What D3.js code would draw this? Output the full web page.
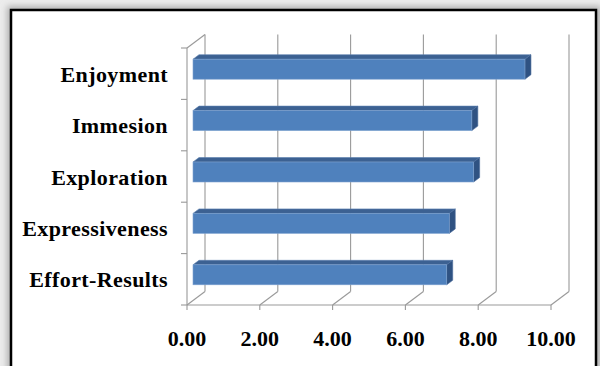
<!DOCTYPE html>
<html>
<head>
<meta charset="utf-8">
<script src="https://cdn.jsdelivr.net/npm/d3@7"></script>
<style>
  html, body { margin: 0; padding: 0; background: #ebebeb; }
  svg { display: block; }
</style>
</head>
<body>
<svg id="chart" width="600" height="366"></svg>
<script>
const categories = ["Enjoyment", "Immesion", "Exploration", "Expressiveness", "Effort-Results"];
const values = [9.12, 7.66, 7.71, 7.04, 6.97];
const tickValues = [0, 2, 4, 6, 8, 10];
const tickLabels = ["0.00", "2.00", "4.00", "6.00", "8.00", "10.00"];

const svg = d3.select("#chart");
const W = 600, H = 366;

// frame & shadow
const defs = svg.append("defs");
const f = defs.append("filter").attr("id", "shadow").attr("x", "-10%").attr("y", "-10%").attr("width", "120%").attr("height", "120%");
f.append("feGaussianBlur").attr("stdDeviation", 3);
svg.append("rect").attr("width", W).attr("height", H).attr("fill", "#ececec");
svg.append("rect").attr("x", 7).attr("y", 6).attr("width", 594).attr("height", 380)
  .attr("fill", "#b0b0b0").attr("filter", "url(#shadow)");
svg.append("rect").attr("x", 11).attr("y", 10).attr("width", 585).attr("height", 380)
  .attr("fill", "#ffffff").attr("stroke", "#000").attr("stroke-width", 2.5);

// scales (front plane)
const x = d3.scaleLinear().domain([0, 10]).range([187, 551]);
const y = d3.scaleBand().domain(categories).range([48, 305]);
const DX = 18, DY = -13.5; // full depth offset
const y0 = y.range()[0], y1 = y.range()[1];

const grid = svg.append("g").attr("stroke", "#999999").attr("stroke-width", 1.1).attr("fill", "none");

tickValues.forEach(t => {
  // back wall vertical gridlines
  grid.append("line")
    .attr("x1", x(t) + DX).attr("x2", x(t) + DX)
    .attr("y1", y0 + DY).attr("y2", y1 + DY);
  // floor diagonals
  grid.append("line")
    .attr("x1", x(t)).attr("y1", y1)
    .attr("x2", x(t) + DX).attr("y2", y1 + DY);
  // tick marks below the floor
  grid.append("line")
    .attr("x1", x(t)).attr("x2", x(t))
    .attr("y1", y1).attr("y2", y1 + 5);
});
// front floor edge
grid.append("line").attr("x1", x(0)).attr("x2", x(10)).attr("y1", y1).attr("y2", y1);
// left front axis
grid.append("line").attr("x1", x(0)).attr("x2", x(0)).attr("y1", y0).attr("y2", y1);
// top-left diagonal
grid.append("line").attr("x1", x(0)).attr("y1", y0).attr("x2", x(0) + DX).attr("y2", y0 + DY);
// category ticks on left axis
const boundaries = categories.map(c => y(c)).concat([y1]);
boundaries.forEach(b => {
  grid.append("line").attr("x1", x(0) - 6).attr("x2", x(0)).attr("y1", b).attr("y2", b);
});

// bars (occupy middle third of depth)
const bd = 1 / 3;
const bx = DX * bd, by = DY * bd;
const barH = 20;
const bars = svg.append("g");
categories.forEach((c, i) => {
  const v = values[i];
  const cy = y(c) + y.bandwidth() / 2 + by;
  const xl = x(0) + bx, xr = x(v) + bx;
  const yt = cy - barH / 2, yb = cy + barH / 2;
  bars.append("polygon")
    .attr("points", [[xl, yt], [xr, yt], [xr + bx, yt + by], [xl + bx, yt + by]].map(p => p.join(",")).join(" "))
    .attr("fill", "#3c6192").attr("stroke", "#5b7fae").attr("stroke-width", 0.6);
  bars.append("polygon")
    .attr("points", [[xr, yt], [xr + bx, yt + by], [xr + bx, yb + by], [xr, yb]].map(p => p.join(",")).join(" "))
    .attr("fill", "#2f5282").attr("stroke", "#4a6c9c").attr("stroke-width", 0.6);
  bars.append("rect")
    .attr("x", xl).attr("y", yt).attr("width", xr - xl).attr("height", barH)
    .attr("fill", "#4f81bd").attr("stroke", "#7fa2cf").attr("stroke-width", 0.6);
});

// category labels
svg.append("g").selectAll("text").data(categories).join("text")
  .attr("x", 168)
  .attr("y", d => y(d) + y.bandwidth() / 2 + 8)
  .attr("text-anchor", "end")
  .attr("font-family", "'Liberation Serif', 'Times New Roman', serif")
  .attr("font-weight", "bold")
  .attr("font-size", 22)
  .attr("letter-spacing", 0.4)
  .attr("fill", "#000")
  .text(d => d);

// value tick labels
svg.append("g").selectAll("text").data(tickValues).join("text")
  .attr("x", d => x(d))
  .attr("y", 346)
  .attr("text-anchor", "middle")
  .attr("font-family", "'Liberation Serif', 'Times New Roman', serif")
  .attr("font-weight", "bold")
  .attr("font-size", 22)
  .attr("fill", "#000")
  .text((d, i) => tickLabels[i]);
</script>
</body>
</html>
